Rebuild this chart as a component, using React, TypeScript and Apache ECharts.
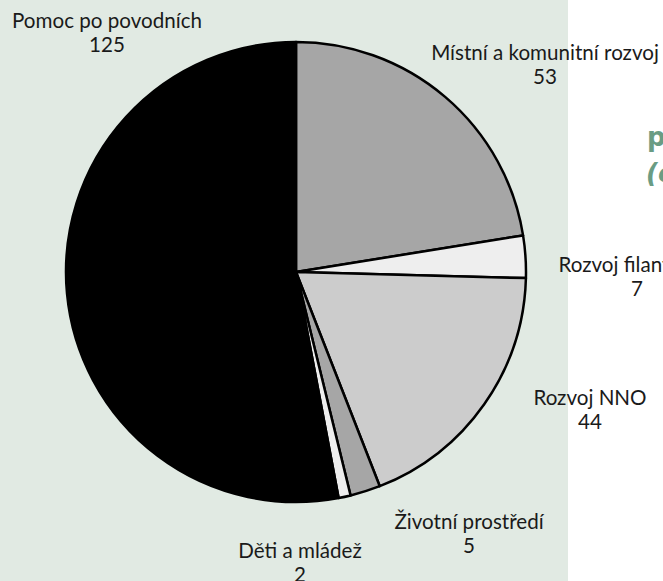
import React, { useEffect, useRef } from "react";
import * as echarts from "echarts";

const categories = [
  "Místní a komunitní rozvoj",
  "Rozvoj filantropie",
  "Rozvoj NNO",
  "Životní prostředí",
  "Děti a mládež",
  "Pomoc po povodních",
];
const values = [53, 7, 44, 5, 2, 125];
const sliceColors = ["#a6a6a6", "#eeeeee", "#cccccc", "#a6a6a6", "#eeeeee", "#000000"];
const labelCenters: [number, number][] = [
  [545, 64],
  [637, 276],
  [590, 409],
  [469, 533],
  [300, 562],
  [107, 32],
];

export default function App() {
  const ref = useRef<HTMLDivElement>(null);
  useEffect(() => {
    if (!ref.current) return;
    const chart = echarts.init(ref.current, null, { renderer: "svg" });
    chart.setOption({
      animation: false,
      backgroundColor: "#ffffff",
      graphic: [
        {
          type: "rect",
          z: -10,
          shape: { x: 0, y: 0, width: 568, height: 581 },
          style: { fill: "#e1eae3" },
        },
        {
          type: "text",
          left: 647,
          top: 124,
          style: {
            text: "p",
            fill: "#6a9c84",
            font: "bold 26px 'DejaVu Sans'",
          },
        },
        {
          type: "text",
          left: 646,
          top: 160,
          style: {
            text: "(č",
            fill: "#6a9c84",
            font: "italic bold 26px 'DejaVu Sans'",
          },
        },
      ],
      series: [
        {
          type: "pie",
          center: [296, 272],
          radius: 230,
          startAngle: 90,
          clockwise: true,
          avoidLabelOverlap: false,
          itemStyle: { borderColor: "#000000", borderWidth: 2.5 },
          label: {
            show: true,
            position: "outside",
            formatter: "{b}\n{c}",
            fontFamily: "Lato",
            fontSize: 20.6,
            lineHeight: 24,
            color: "#1a1a1a",
            align: "center",
            overflow: "none",
            width: 400,
          },
          labelLine: { show: false },
          labelLayout: (params: any) => {
            const p = labelCenters[params.dataIndex];
            return { x: p[0], y: p[1], align: "center", verticalAlign: "middle", hideOverlap: false };
          },
          data: categories.map((name, i) => ({
            name,
            value: values[i],
            itemStyle: { color: sliceColors[i] },
          })),
        },
      ],
    });
    return () => chart.dispose();
  }, []);
  return (
    <div
      ref={ref}
      style={{ position: "fixed", left: 0, top: 0, width: 663, height: 581 }}
    />
  );
}
